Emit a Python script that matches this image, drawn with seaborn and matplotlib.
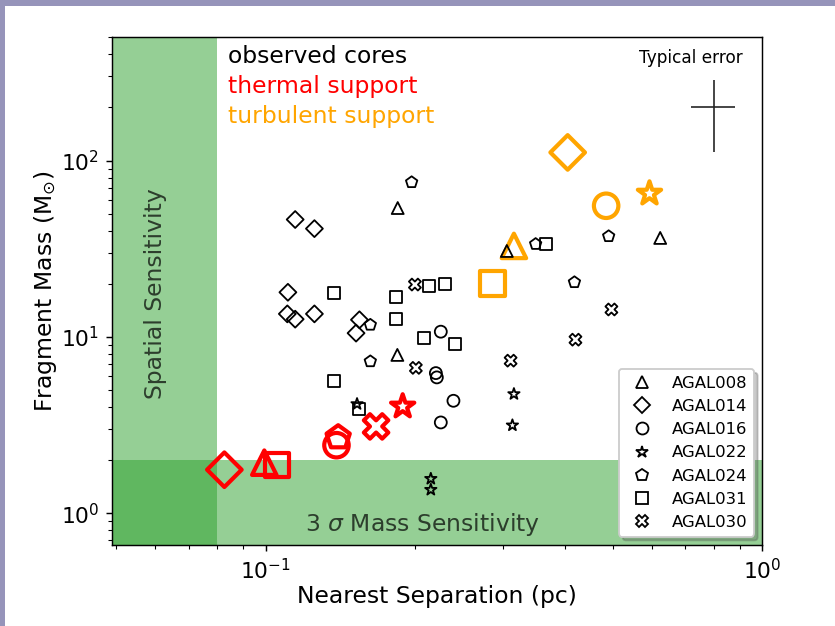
import numpy as np
import pandas as pd
import matplotlib
matplotlib.use("Agg")
import matplotlib.pyplot as plt
from matplotlib.lines import Line2D
from matplotlib.patches import Rectangle
import seaborn as sns

# ---------------- data ----------------
sources = ["AGAL008", "AGAL014", "AGAL016", "AGAL022", "AGAL024", "AGAL031", "AGAL030"]
source_markers = ["^", "D", "o", "*", "p", "s", "X"]

agal008_sep = [0.1845, 0.306, 0.623, 0.1842]
agal008_mass = [53.8, 30.7, 36.4, 7.9]
agal014_sep = [0.1147, 0.1254, 0.1109, 0.1106, 0.1147, 0.1254, 0.1545, 0.1521]
agal014_mass = [46.3, 41.1, 17.9, 13.5, 12.6, 13.5, 12.5, 10.5]
agal016_sep = [0.2253, 0.2202, 0.2212, 0.2389, 0.2253]
agal016_mass = [10.7, 6.23, 5.89, 4.34, 3.27]
agal022_sep = [0.1528, 0.3162, 0.314, 0.2151, 0.2151]
agal022_mass = [4.16, 4.74, 3.15, 1.567, 1.358]
agal024_sep = [0.1968, 0.3497, 0.4906, 0.4186, 0.1625, 0.1625]
agal024_mass = [75.3, 33.6, 37.2, 20.4, 11.7, 7.26]
agal031_sep = [0.1376, 0.1832, 0.1832, 0.2132, 0.2295, 0.3663, 0.208, 0.2404, 0.1372, 0.1545]
agal031_mass = [17.7, 16.75, 12.7, 19.5, 20.0, 33.8, 9.9, 9.07, 5.64, 3.89]
agal030_sep = [0.1998, 0.2007, 0.3114, 0.4969, 0.4206]
agal030_mass = [19.8, 6.67, 7.33, 14.3, 9.64]

thermal_source = ["AGAL008", "AGAL014", "AGAL016", "AGAL022", "AGAL024", "AGAL031", "AGAL030"]
thermal_sep = [0.0994, 0.0826, 0.1389, 0.1888, 0.1400, 0.1053, 0.1669]
thermal_mass = [1.934, 1.764, 2.43, 4.03, 2.69, 1.873, 3.105]

turbulent_source = ["AGAL008", "AGAL014", "AGAL016", "AGAL022", "AGAL031"]
turbulent_sep = [0.3162, 0.4057, 0.4849, 0.5928, 0.2862]
turbulent_mass = [32.8, 111.2, 55.4, 65.0, 20.1]

error_sep, error_mass = 0.8, 200.0
error_dsep, error_dmass = 0.08, 88.0

obs_seps = [agal008_sep, agal014_sep, agal016_sep, agal022_sep, agal024_sep, agal031_sep, agal030_sep]
obs_masses = [agal008_mass, agal014_mass, agal016_mass, agal022_mass, agal024_mass, agal031_mass, agal030_mass]

obs = pd.concat([pd.DataFrame({"sep": s, "mass": m, "source": src})
                 for s, m, src in zip(obs_seps, obs_masses, sources)], ignore_index=True)
thermal = pd.DataFrame({"sep": thermal_sep, "mass": thermal_mass, "source": thermal_source})
turbulent = pd.DataFrame({"sep": turbulent_sep, "mass": turbulent_mass, "source": turbulent_source})
marker_of = dict(zip(sources, source_markers))

# ---------------- figure ----------------
DPI = 130.45
fig = plt.figure(figsize=(835 / DPI, 626 / DPI), dpi=DPI)
# page border strips seen in the reference
fig.patches.append(Rectangle((0, 1 - 6 / 626), 1, 6 / 626, transform=fig.transFigure,
                             facecolor="#9694ba", edgecolor="none", zorder=-10))
fig.patches.append(Rectangle((0, 0), 5 / 835, 1, transform=fig.transFigure,
                             facecolor="#9694ba", edgecolor="none", zorder=-10))

ax = fig.add_axes([0.1338, 0.1294, 0.7791, 0.8110])
ax.set_xscale("log")
ax.set_yscale("log")

green = "tab:green"
ax.axvspan(0.001, 0.08, color=green, alpha=0.5, lw=0, zorder=0)
ax.axhspan(0.01, 2.0, color=green, alpha=0.5, lw=0, zorder=0)

big_ms = 13.5
small_ms = 6.6
for df, col in [(thermal, "red"), (turbulent, "orange")]:
    for src in sources:
        sub = df[df["source"] == src]
        if sub.empty:
            continue
        sns.scatterplot(data=sub, x="sep", y="mass", marker=marker_of[src], s=big_ms ** 2,
                        facecolor="none", edgecolor=col, linewidth=2.3, ax=ax,
                        legend=False, zorder=3)

for src in sources:
    sub = obs[obs["source"] == src]
    sns.scatterplot(data=sub, x="sep", y="mass", marker=marker_of[src], s=small_ms ** 2,
                    facecolor="none", edgecolor="k", linewidth=1.0, ax=ax,
                    legend=False, zorder=4)

ax.errorbar([error_sep], [error_mass], xerr=[error_dsep], yerr=[error_dmass],
            fmt="none", ecolor="#222222", elinewidth=0.9, capsize=0, zorder=5)
ax.text(0.811, 0.950, "Typical error", transform=ax.transAxes, fontsize=9.3,
        ha="left", va="baseline", color="k")

ax.text(0.179, 0.9488, "observed cores", transform=ax.transAxes, fontsize=13,
        color="black", va="baseline")
ax.text(0.179, 0.8897, "thermal support", transform=ax.transAxes, fontsize=13,
        color="red", va="baseline")
ax.text(0.179, 0.8318, "turbulent support", transform=ax.transAxes, fontsize=13,
        color="orange", va="baseline")

ax.text(0.0666, 0.4954, "Spatial Sensitivity", transform=ax.transAxes, fontsize=13,
        rotation=90, ha="center", va="center", color="k", alpha=0.7)
ax.text(0.4774, 0.0282, r"3 $\sigma$ Mass Sensitivity", transform=ax.transAxes,
        fontsize=13, ha="center", va="baseline", color="k", alpha=0.7)

ax.set_xlim(0.049, 1.0)
ax.set_ylim(0.66, 500)
ax.set_xlabel("Nearest Separation (pc)", fontsize=13, labelpad=1.0)
ax.set_ylabel(r"Fragment Mass (M$_{\odot}$)", fontsize=13, labelpad=0.8)
ax.tick_params(axis="both", which="major", labelsize=12)

handles = [Line2D([], [], linestyle="none", marker=m, markersize=small_ms,
                  markerfacecolor="none", markeredgecolor="k", markeredgewidth=1.0)
           for m in source_markers]
ax.legend(handles, sources, loc="lower right", fontsize=9.1,
          shadow={"alpha": 0.3}, fancybox=True, framealpha=1)

fig.savefig("out.png", dpi=DPI)
